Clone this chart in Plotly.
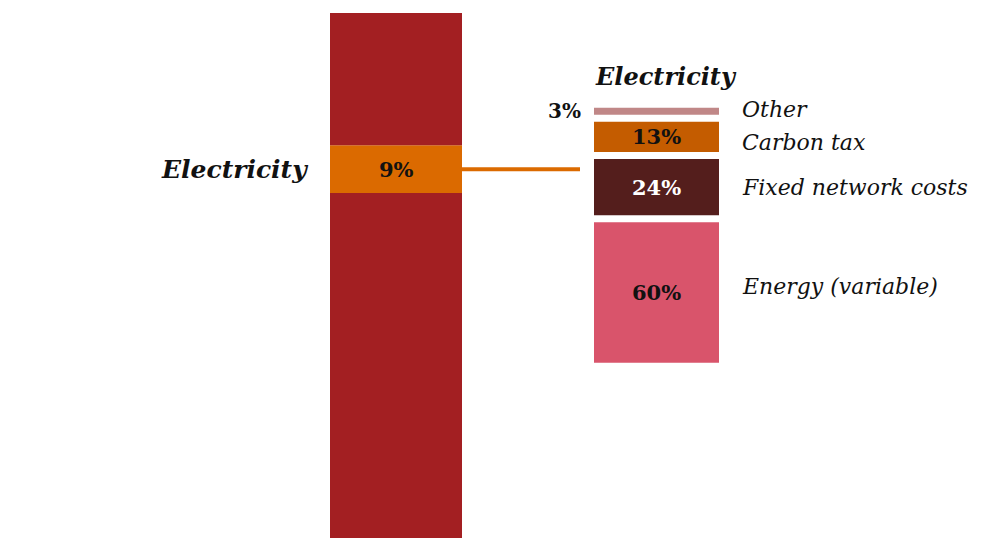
import plotly.graph_objects as go

# Household budget column: electricity share highlighted
budget_parts = ["Rest of budget (lower)", "Electricity", "Rest of budget (upper)"]
budget_shares = [65.7, 9.1, 25.2]
budget_colors = ["#A31F22", "#DB6A00", "#A31F22"]

# Breakdown of the electricity bill, bottom to top
bill_parts = ["Energy (variable)", "Fixed network costs", "Carbon tax", "Other"]
bill_shares = [60, 24, 13, 3]
bill_colors = ["#D9546B", "#541E1C", "#C45C00", "#C08787"]
bill_text_colors = ["#111111", "#FFFFFF", "#111111", "#111111"]

SERIF = "Georgia, 'DejaVu Serif', serif"
W, H = 991, 538
GAP = 3  # spacing between stacked pieces of the breakdown, in share units

fig = go.Figure()

# Left column
base = 0
for name, val, col in zip(budget_parts, budget_shares, budget_colors):
    fig.add_trace(go.Bar(x=[396], y=[val], base=[base], width=[132], name=name,
                         marker=dict(color=col, line=dict(width=0)),
                         hoverinfo="skip", yaxis="y"))
    base += val

elec_idx = budget_parts.index("Electricity")
elec_base = sum(budget_shares[:elec_idx])
elec_mid = elec_base + budget_shares[elec_idx] / 2

# Connector from the highlighted segment to the breakdown
fig.add_trace(go.Scatter(x=[462, 580], y=[elec_mid, elec_mid], mode="lines",
                         line=dict(color="#DB6A00", width=4), hoverinfo="skip",
                         yaxis="y"))

# Right column with small gaps between the pieces
bases = []
b = 0
for val in bill_shares:
    bases.append(b)
    b += val + GAP
for name, val, bs, col in zip(bill_parts, bill_shares, bases, bill_colors):
    fig.add_trace(go.Bar(x=[656.5], y=[val], base=[bs], width=[125], name=name,
                         marker=dict(color=col, line=dict(width=0)),
                         hoverinfo="skip", yaxis="y2"))

annotations = []
annotations.append(dict(x=310, y=elec_mid, xref="x", yref="y", text="<b><i>Electricity</i></b>",
                        showarrow=False, xanchor="right", yanchor="middle",
                        font=dict(family=SERIF, size=25, color="#111111")))
annotations.append(dict(x=396, y=elec_mid, xref="x", yref="y",
                        text=f"<b>{budget_shares[elec_idx]:.0f}%</b>",
                        showarrow=False, xanchor="center", yanchor="middle",
                        font=dict(family=SERIF, size=21, color="#111111")))

top_of_bill = bases[-1] + bill_shares[-1]
annotations.append(dict(x=593, y=top_of_bill + 13.5, xref="x", yref="y2",
                        text="<b><i>Electricity</i></b>", showarrow=False,
                        xanchor="left", yanchor="middle",
                        font=dict(family=SERIF, size=24, color="#111111")))

# Value labels on the breakdown
for val, bs, tc in zip(bill_shares, bases, bill_text_colors):
    mid = bs + val / 2
    if val < 5:
        annotations.append(dict(x=583, y=mid, xref="x", yref="y2", text=f"<b>{val}%</b>",
                                showarrow=False, xanchor="right", yanchor="middle",
                                font=dict(family=SERIF, size=20, color="#111111")))
    else:
        annotations.append(dict(x=656.5, y=mid, xref="x", yref="y2", text=f"<b>{val}%</b>",
                                showarrow=False, xanchor="center", yanchor="middle",
                                font=dict(family=SERIF, size=21, color=tc)))

# Category names to the right of the breakdown (nudged from each piece's centre)
label_offsets = [2.4, 0, -2.6, 0.9]
for name, val, bs, off in zip(bill_parts, bill_shares, bases, label_offsets):
    annotations.append(dict(x=740, y=bs + val / 2 + off, xref="x", yref="y2",
                            text=f"<i>{name}</i>", showarrow=False,
                            xanchor="left", yanchor="middle",
                            font=dict(family=SERIF, size=22, color="#111111")))

left_scale = 525 / 100          # px per share unit, left column
right_scale = 2.34              # px per share unit, right column
right_zero_px = 362.7           # pixel row of the breakdown's base

fig.update_layout(
    width=W, height=H,
    margin=dict(l=0, r=0, t=0, b=0),
    paper_bgcolor="white", plot_bgcolor="white",
    barmode="overlay", showlegend=False,
    xaxis=dict(range=[0, W], visible=False, fixedrange=True),
    yaxis=dict(range=[0, H / left_scale], visible=False, fixedrange=True),
    yaxis2=dict(range=[-(H - right_zero_px) / right_scale, right_zero_px / right_scale],
                overlaying="y", visible=False, fixedrange=True),
    annotations=annotations,
)

fig.write_html("out.html")
